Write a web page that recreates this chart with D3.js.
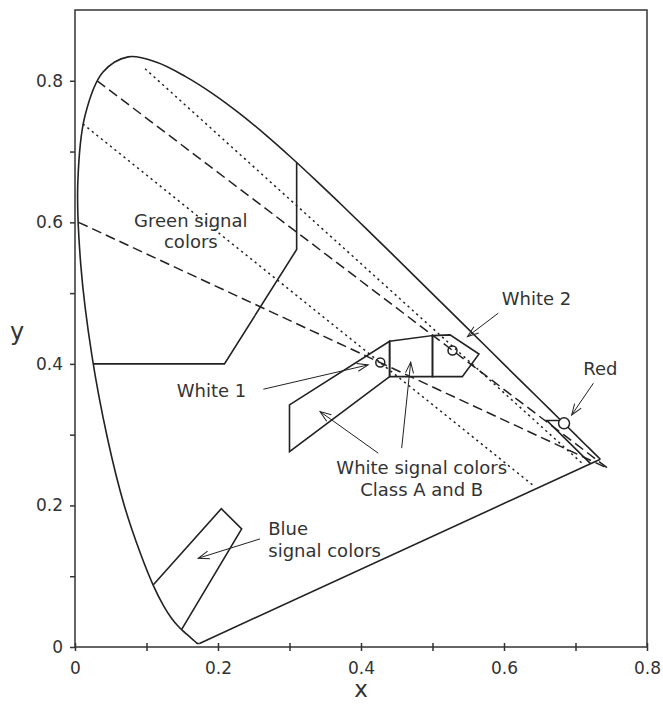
<!DOCTYPE html>
<html>
<head>
<meta charset="utf-8">
<script src="https://cdn.jsdelivr.net/npm/d3@7"></script>
<style>
  body { margin: 0; background: #fff; }
  svg { display: block; font-family: "DejaVu Sans", Verdana, sans-serif; }
</style>
</head>
<body>
<div id="chart"></div>
<script>
// CIE 1931 spectral locus (x, y) by wavelength
const wavelengths = [380, 420, 430, 440, 450, 455, 460, 465, 470, 475, 480, 485, 490, 495,
  500, 505, 510, 515, 520, 525, 530, 535, 540, 545, 550, 555, 560, 565, 570, 575, 580,
  585, 590, 595, 600, 605, 610, 615, 620, 625, 630, 640, 650, 660, 680, 700];
const locusX = [0.1741, 0.1714, 0.1689, 0.1644, 0.1566, 0.1510, 0.1440, 0.1355, 0.1241, 0.1096,
  0.0913, 0.0687, 0.0454, 0.0235, 0.0082, 0.0039, 0.0139, 0.0389, 0.0743, 0.1142, 0.1547,
  0.1929, 0.2296, 0.2658, 0.3016, 0.3373, 0.3731, 0.4087, 0.4441, 0.4788, 0.5125, 0.5448,
  0.5752, 0.6029, 0.6270, 0.6482, 0.6658, 0.6801, 0.6915, 0.7006, 0.7079, 0.7190, 0.7260,
  0.7300, 0.7334, 0.7347];
const locusY = [0.0050, 0.0051, 0.0069, 0.0109, 0.0177, 0.0227, 0.0297, 0.0399, 0.0578, 0.0868,
  0.1327, 0.2007, 0.2950, 0.4127, 0.5384, 0.6548, 0.7502, 0.8120, 0.8338, 0.8262, 0.8059,
  0.7816, 0.7543, 0.7243, 0.6923, 0.6589, 0.6245, 0.5896, 0.5547, 0.5202, 0.4866, 0.4544,
  0.4242, 0.3965, 0.3725, 0.3514, 0.3340, 0.3197, 0.3083, 0.2993, 0.2920, 0.2809, 0.2740,
  0.2700, 0.2666, 0.2653];

// signal colour region boundaries
const greenRegion = [[0.026, 0.400], [0.209, 0.400], [0.310, 0.5616], [0.310, 0.6844]];
const blueRegion = [[0.1096, 0.088], [0.2046, 0.1954], [0.2331, 0.1669], [0.149, 0.0245]];
const redRegion = [[0.680, 0.320], [0.660, 0.320], [0.721, 0.259]];
const whiteRegionA = [[0.300, 0.342], [0.440, 0.432], [0.440, 0.382], [0.300, 0.276]];
const whiteRegionMid = [[0.440, 0.432], [0.500, 0.440], [0.500, 0.382], [0.440, 0.382]];
const whiteRegionB = [[0.500, 0.440], [0.5245, 0.441], [0.565, 0.414], [0.5417, 0.382], [0.500, 0.382]];

// reference lines
const dashedLines = [
  [[0.031, 0.800], [0.746, 0.252]],
  [[0.005, 0.600], [0.746, 0.252]]
];
const dottedLines = [
  [[0.098, 0.817], [0.712, 0.257]],
  [[0.011, 0.739], [0.640, 0.229]]
];

// marked points
const whitePoints = [[0.427, 0.402], [0.528, 0.419]];
const redPoint = [0.684, 0.316];

// labels: text lines, anchor point, alignment
const labels = [
  { lines: ["Green signal", "colors"], x: 0.162, y: 0.594, anchor: "middle" },
  { lines: ["White 2"], x: 0.5968, y: 0.4834, anchor: "start" },
  { lines: ["Red"], x: 0.7109, y: 0.3845, anchor: "start" },
  { lines: ["White 1"], x: 0.1422, y: 0.3534, anchor: "start" },
  { lines: ["White signal colors", "Class A and B"], x: 0.4849, y: 0.2445, anchor: "middle" },
  { lines: ["Blue", "signal colors"], x: 0.2703, y: 0.1583, anchor: "start" }
];

// arrows: from -> to
const arrows = [
  [[0.592, 0.4717], [0.549, 0.4386]],
  [[0.725, 0.3727], [0.6947, 0.3279]],
  [[0.2634, 0.3642], [0.410, 0.3986]],
  [[0.4242, 0.2738], [0.3427, 0.3326]],
  [[0.4569, 0.2809], [0.4695, 0.4025]],
  [[0.2587, 0.1527], [0.1724, 0.1254]]
];

const majorTicksX = [0, 0.2, 0.4, 0.6, 0.8];
const minorTicksX = [0.1, 0.3, 0.5, 0.7];
const majorTicksY = [0, 0.2, 0.4, 0.6, 0.8];
const minorTicksY = [0.1, 0.3, 0.5, 0.7];

const width = 663, height = 704;
const margin = { top: 10, right: 16, bottom: 57, left: 75 };
const w = width - margin.left - margin.right;
const h = height - margin.top - margin.bottom;
const ink = "#222";
const textColor = "#333";

const svg = d3.select("#chart").append("svg")
  .attr("width", width)
  .attr("height", height);

const defs = svg.append("defs");
defs.append("marker")
  .attr("id", "arrow")
  .attr("markerUnits", "userSpaceOnUse")
  .attr("viewBox", "-13 -6 15 12")
  .attr("markerWidth", 15)
  .attr("markerHeight", 12)
  .attr("refX", 0)
  .attr("refY", 0)
  .attr("orient", "auto")
  .append("path")
  .attr("d", "M-11,-4L0,0L-11,4")
  .attr("fill", "none")
  .attr("stroke", ink)
  .attr("stroke-width", 1);

const g = svg.append("g")
  .attr("transform", `translate(${margin.left},${margin.top})`);

const x = d3.scaleLinear().domain([0, 0.8]).range([0, w]);
const y = d3.scaleLinear().domain([0, 0.9]).range([h, 0]);

const fmt = d => d === 0 ? "0" : d3.format(".1f")(d);

// axes
const xAxis = g.append("g")
  .attr("transform", `translate(0,${h})`)
  .call(d3.axisBottom(x).tickValues(majorTicksX).tickFormat(fmt).tickSize(4).tickPadding(11));
const xMinor = g.append("g")
  .attr("transform", `translate(0,${h})`)
  .call(d3.axisBottom(x).tickValues(minorTicksX).tickFormat("").tickSize(4));
[xAxis, xMinor].forEach(a => a.selectAll(".tick line").attr("y1", -4));

const yAxis = g.append("g")
  .call(d3.axisLeft(y).tickValues(majorTicksY).tickFormat(fmt).tickSize(5).tickPadding(7));
const yMinor = g.append("g")
  .call(d3.axisLeft(y).tickValues(minorTicksY).tickFormat("").tickSize(5));

[xAxis, xMinor, yAxis, yMinor].forEach(a => {
  a.select(".domain").remove();
  a.selectAll(".tick line").attr("stroke", textColor).attr("stroke-width", 1.5);
  a.selectAll("text")
    .style("font-size", "17px")
    .style("font-family", "'DejaVu Sans', Verdana, sans-serif")
    .attr("fill", textColor);
});

// frame
g.append("rect")
  .attr("x", 0).attr("y", 0)
  .attr("width", w).attr("height", h)
  .attr("fill", "none")
  .attr("stroke", textColor)
  .attr("stroke-width", 1.5);

// axis titles
svg.append("text")
  .attr("x", margin.left + x(0.4))
  .attr("y", height - 7)
  .attr("text-anchor", "middle")
  .style("font-size", "23px")
  .attr("fill", textColor)
  .text("x");
svg.append("text")
  .attr("x", 17)
  .attr("y", margin.top + y(0.45) + 11)
  .attr("text-anchor", "middle")
  .style("font-size", "24px")
  .attr("fill", textColor)
  .text("y");

const line = d3.line().x(d => x(d[0])).y(d => y(d[1]));

// spectral locus and purple line
const locus = locusX.map((v, i) => [v, locusY[i]]);
g.append("path")
  .datum(locus)
  .attr("d", d3.line().x(d => x(d[0])).y(d => y(d[1])).curve(d3.curveCatmullRom.alpha(0.5)))
  .attr("fill", "none")
  .attr("stroke", ink)
  .attr("stroke-width", 1.6);
g.append("path")
  .datum([locus[0], locus[locus.length - 1]])
  .attr("d", line)
  .attr("fill", "none")
  .attr("stroke", ink)
  .attr("stroke-width", 1.6);

// regions
[greenRegion, blueRegion, redRegion].forEach(r => {
  g.append("path").datum(r).attr("d", line)
    .attr("fill", "none").attr("stroke", ink).attr("stroke-width", 1.6);
});
[whiteRegionA, whiteRegionMid, whiteRegionB].forEach(r => {
  g.append("path").datum(r).attr("d", d => line(d) + "Z")
    .attr("fill", "none").attr("stroke", ink).attr("stroke-width", 1.6)
    .attr("stroke-linejoin", "miter");
});

// white points
g.selectAll(".wpt")
  .data(whitePoints)
  .enter().append("circle")
  .attr("class", "wpt")
  .attr("cx", d => x(d[0]))
  .attr("cy", d => y(d[1]))
  .attr("r", 4.5)
  .attr("fill", "#fff")
  .attr("stroke", ink)
  .attr("stroke-width", 1.5);

// dashed / dotted lines
dashedLines.forEach(l => {
  g.append("path").datum(l).attr("d", line)
    .attr("fill", "none").attr("stroke", ink).attr("stroke-width", 1.5)
    .attr("stroke-dasharray", "10,5");
});
dottedLines.forEach(l => {
  g.append("path").datum(l).attr("d", line)
    .attr("fill", "none").attr("stroke", ink).attr("stroke-width", 1.5)
    .attr("stroke-dasharray", "2.2,3.6");
});

// red point
g.append("circle")
  .attr("cx", x(redPoint[0]))
  .attr("cy", y(redPoint[1]))
  .attr("r", 5.5)
  .attr("fill", "#fff")
  .attr("stroke", ink)
  .attr("stroke-width", 1.5);

// arrows
arrows.forEach(a => {
  g.append("path").datum(a).attr("d", line)
    .attr("fill", "none")
    .attr("stroke", ink)
    .attr("stroke-width", 1)
    .attr("marker-end", "url(#arrow)");
});

// labels
labels.forEach(l => {
  const t = g.append("text")
    .attr("x", x(l.x))
    .attr("y", y(l.y))
    .attr("text-anchor", l.anchor)
    .style("font-size", "18px")
    .attr("fill", textColor);
  l.lines.forEach((s, i) => {
    t.append("tspan")
      .attr("x", x(l.x))
      .attr("dy", i === 0 ? 0 : 21.7)
      .text(s);
  });
});
</script>
</body>
</html>
